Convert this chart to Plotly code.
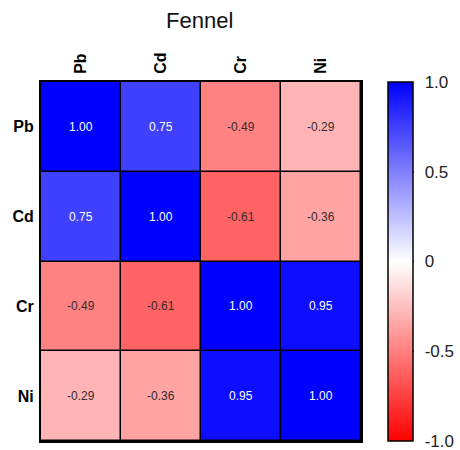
import plotly.graph_objects as go

# Correlation matrix of heavy metals in fennel
metals = ["Pb", "Cd", "Cr", "Ni"]
r_values = [
    [1.00, 0.75, -0.49, -0.29],
    [0.75, 1.00, -0.61, -0.36],
    [-0.49, -0.61, 1.00, 0.95],
    [-0.29, -0.36, 0.95, 1.00],
]
cbar_ticks = [1.0, 0.5, 0, -0.5, -1.0]
cbar_labels = ["1.0", "0.5", "0", "-0.5", "-1.0"]

FONT = "Liberation Sans, Arial, sans-serif"

PLOT_W, PLOT_H = 320, 359
CBAR_X = 1.084
CBAR_THICK = 25

fig = go.Figure(
    go.Heatmap(
        z=r_values,
        x=metals,
        y=metals,
        zmin=-1,
        zmax=1,
        colorscale=[[0.0, "rgb(255,0,0)"], [0.5, "rgb(255,255,255)"], [1.0, "rgb(0,0,255)"]],
        xgap=1.5,
        ygap=1.5,
        colorbar=dict(
            x=CBAR_X,
            xanchor="left",
            xpad=0,
            ypad=0,
            y=0.5,
            yanchor="middle",
            len=1.0,
            lenmode="fraction",
            thickness=CBAR_THICK,
            outlinewidth=1.5,
            outlinecolor="black",
            tickvals=cbar_ticks,
            ticktext=cbar_labels,
            ticks="outside",
            ticklen=8,
            tickcolor="rgba(0,0,0,0)",
            ticklabeloverflow="allow",
            tickfont=dict(family=FONT, size=17, color="#222"),
        ),
        hoverinfo="z",
    )
)

# Value labels inside each cell
annotations = []
for i, row_name in enumerate(metals):
    for j, col_name in enumerate(metals):
        v = r_values[i][j]
        annotations.append(
            dict(
                x=col_name,
                y=row_name,
                text=f"{v:.2f}",
                showarrow=False,
                font=dict(family=FONT, size=12, color="white" if v > 0 else "#3a2a2a"),
            )
        )

annotations.append(
    dict(
        text="Fennel",
        xref="paper",
        yref="paper",
        x=(199 - 41) / PLOT_W,
        y=1 + (82 - 21) / PLOT_H,
        xanchor="center",
        yanchor="middle",
        showarrow=False,
        font=dict(family=FONT, size=22, color="#111"),
    )
)

# Small inner tick dashes on both edges of the colour bar
shapes = []
left_edge = CBAR_X + 1 / PLOT_W
right_edge = CBAR_X + (CBAR_THICK + 1) / PLOT_W
dash = 4 / PLOT_W
for t in cbar_ticks:
    if abs(t) == 1.0:
        continue
    yp = (t + 1) / 2
    for x0, x1 in ((left_edge, left_edge + dash), (right_edge - dash, right_edge)):
        shapes.append(
            dict(type="line", xref="paper", yref="paper", x0=x0, x1=x1, y0=yp, y1=yp,
                 line=dict(color="black", width=1.5))
        )

fig.update_layout(
    width=460,
    height=450,
    margin=dict(l=41, r=99, t=82, b=9, autoexpand=False),
    paper_bgcolor="white",
    plot_bgcolor="black",
    annotations=annotations,
    shapes=shapes,
    font=dict(family=FONT),
    xaxis=dict(
        side="top",
        tickangle=-90,
        ticks="",
        showgrid=False,
        zeroline=False,
        showline=True,
        linewidth=2,
        linecolor="black",
        mirror=True,
        tickfont=dict(family=FONT, size=16, color="black", weight="bold"),
        ticklabelstandoff=3,
    ),
    yaxis=dict(
        autorange="reversed",
        ticks="",
        showgrid=False,
        zeroline=False,
        showline=True,
        linewidth=2,
        linecolor="black",
        mirror=True,
        tickfont=dict(family=FONT, size=16, color="black", weight="bold"),
        ticklabelstandoff=2,
    ),
)

fig.write_html("out.html")
